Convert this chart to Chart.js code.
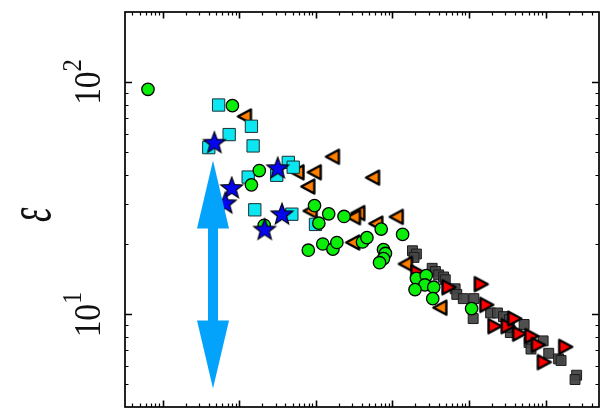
<!DOCTYPE html>
<html><head><meta charset="utf-8">
<script src="https://cdn.jsdelivr.net/npm/chart.js@4.4.1/dist/chart.umd.min.js"></script>
<style>
html,body{margin:0;padding:0;overflow:hidden;background:#fff;width:603px;height:412px}
#wrap{position:absolute;left:0;top:0;width:610px;height:418px}
</style>
</head><body>
<div id="wrap"><canvas id="c" width="610" height="418"></canvas></div>
<script>
// ---- data ----
const greenX = [6.39, 81.0, 182, 143.6, 211, 958, 1092, 1468, 2332, 7131, 13570, 795, 1229, 1668, 1878, 4059, 4639, 7636, 8099, 7636, 6780, 20560, 27650, 26530, 34640, 19720, 33630, 108100];
const greenY = [93.0, 79.1, 41.6, 36.1, 24.2, 29.4, 24.7, 27.1, 26.4, 23.3, 22.1, 18.9, 20.1, 19.1, 20.4, 20.5, 21.4, 19.0, 18.3, 17.4, 16.7, 14.3, 14.7, 13.4, 13.1, 12.8, 11.7, 10.6];

const cyanX = [53.5, 73.5, 39.8, 143.6, 151.1, 435.5, 505, 307.7, 130.3, 158.9, 484.5, 987];
const cyanY = [79.6, 59.4, 52.2, 64.5, 53.1, 45.1, 43.0, 39.7, 39.0, 28.2, 27.0, 24.4];

const starX = [47.1, 317, 79.4, 65.3, 360, 213.7];
const starY = [54.8, 42.6, 35.0, 30.1, 27.0, 23.2];

const orangeX = [118.1, 1668, 573.7, 963.6, 5577, 795, 851, 3574, 3137, 11360, 6150, 3064, 14970, 42250];
const orangeY = [71.1, 47.7, 40.9, 40.9, 38.8, 35.5, 27.9, 27.3, 26.2, 26.3, 24.6, 20.4, 16.5, 10.7];

const redX = [21180, 54040, 142500, 168700, 215800, 320100, 390500, 452800, 652000, 795600, 950400, 1809000];
const redY = [15.2, 13.1, 13.5, 11.0, 8.91, 8.91, 9.60, 8.27, 8.08, 7.40, 6.24, 7.26];

const darkX = [18250, 20560, 19140, 33030, 36420, 40170, 46600, 49000, 65900, 69300, 84300, 115800, 113400, 191700, 235900, 281800, 336700, 346800, 317300, 525300, 609100, 646200, 930900, 1102000, 1483000, 1597000, 2551000, 2432000];
const darkY = [18.8, 18.2, 17.6, 15.8, 15.3, 14.8, 14.5, 14.1, 12.9, 12.2, 11.7, 11.7, 9.60, 10.15, 10.15, 9.79, 9.51, 8.36, 8.80, 9.06, 7.58, 7.10, 7.70, 6.81, 6.44, 6.34, 5.48, 5.25];

// double-headed range arrow (x position, y range)
const arrowX = [45.2];
const arrowY = [45.9, 4.81];

// axes
const xRange = [3.2, 5e6];
const yRange = [4, 200];
const yMajorTicks = [10, 100];
const yTickBase = '10';
const yTickExp = ['1', '2'];
const yAxisTitle = 'ε';

// ---- marker images ----
function makeTri(dir, fill) {
  const c = document.createElement('canvas'); c.width = 21; c.height = 21;
  const g = c.getContext('2d');
  g.beginPath();
  if (dir < 0) { g.moveTo(3.5, 10.5); g.lineTo(16.5, 3.5); g.lineTo(16.5, 17.5); }
  else { g.moveTo(17.5, 10.5); g.lineTo(4.5, 3.5); g.lineTo(4.5, 17.5); }
  g.closePath();
  g.fillStyle = fill; g.fill();
  g.lineJoin = 'round'; g.lineWidth = 2.4; g.strokeStyle = '#000'; g.stroke();
  return c;
}
function makeStar(fill) {
  const c = document.createElement('canvas'); c.width = 26; c.height = 26;
  const g = c.getContext('2d');
  const cx = 13, cy = 13.5, R = 11.5, r = 4.8;
  g.beginPath();
  for (let i = 0; i < 10; i++) {
    const a = -Math.PI / 2 + i * Math.PI / 5;
    const rr = i % 2 ? r : R;
    const px = cx + rr * Math.cos(a), py = cy + rr * Math.sin(a);
    i ? g.lineTo(px, py) : g.moveTo(px, py);
  }
  g.closePath();
  g.fillStyle = fill; g.fill();
  g.lineJoin = 'miter'; g.lineWidth = 1.1; g.strokeStyle = '#000'; g.stroke();
  return c;
}
const pts = (xs, ys) => xs.map((v, i) => ({ x: v, y: ys[i] }));

const arrowPlugin = {
  id: 'rangeArrow',
  afterDatasetsDraw(chart) {
    const { ctx, scales: { x, y } } = chart;
    const px = x.getPixelForValue(arrowX[0]);
    const yt = y.getPixelForValue(arrowY[0]);
    const yb = y.getPixelForValue(arrowY[1]);
    const hl = 68, hw = 16, sw = 5;
    ctx.save();
    ctx.fillStyle = '#03a2fb';
    ctx.beginPath();
    ctx.moveTo(px, yt);
    ctx.lineTo(px + hw, yt + hl);
    ctx.lineTo(px + sw, yt + hl);
    ctx.lineTo(px + sw, yb - hl);
    ctx.lineTo(px + hw, yb - hl);
    ctx.lineTo(px, yb);
    ctx.lineTo(px - hw, yb - hl);
    ctx.lineTo(px - sw, yb - hl);
    ctx.lineTo(px - sw, yt + hl);
    ctx.lineTo(px - hw, yt + hl);
    ctx.closePath();
    ctx.fill();
    ctx.restore();
  }
};

function drawTitle(ctx, cx, cy) {
  ctx.save();
  ctx.font = 'italic 34px "Liberation Serif", serif';
  const m = ctx.measureText(yAxisTitle);
  const L = m.actualBoundingBoxLeft, R = m.actualBoundingBoxRight;
  const A = m.actualBoundingBoxAscent, D = m.actualBoundingBoxDescent;
  const gw = L + R, gh = A + D;
  ctx.translate(cx, cy);
  ctx.rotate(-Math.PI / 2);
  ctx.scale(15 / gw, 29 / gh);
  ctx.textAlign = 'left'; ctx.textBaseline = 'alphabetic';
  ctx.fillText(yAxisTitle, (L - R) / 2, (A - D) / 2);
  ctx.restore();
}

const framePlugin = {
  id: 'frame',
  afterDraw(chart) {
    const { ctx, chartArea: a, scales: { x, y } } = chart;
    ctx.save();
    ctx.strokeStyle = '#000';
    ctx.lineWidth = 1.7;
    ctx.strokeRect(a.left, a.top, a.right - a.left, a.bottom - a.top);
    for (let d = 0; d <= 7; d++) {
      for (let m = 1; m <= 9; m++) {
        const v = m * Math.pow(10, d);
        if (v <= xRange[0] || v >= xRange[1]) continue;
        const p = Math.round(x.getPixelForValue(v)) + 0.5;
        const len = m === 1 ? 6.5 : 3.5;
        ctx.lineWidth = m === 1 ? 1.6 : 1.2;
        ctx.beginPath();
        ctx.moveTo(p, a.top); ctx.lineTo(p, a.top + len);
        ctx.moveTo(p, a.bottom); ctx.lineTo(p, a.bottom - len);
        ctx.stroke();
      }
    }
    for (let d = 0; d <= 3; d++) {
      for (let m = 1; m <= 9; m++) {
        const v = m * Math.pow(10, d);
        if (v <= yRange[0] || v >= yRange[1]) continue;
        const p = Math.round(y.getPixelForValue(v)) + 0.5;
        const len = m === 1 ? 7 : 3.5;
        ctx.lineWidth = m === 1 ? 1.6 : 1.2;
        ctx.beginPath();
        ctx.moveTo(a.left, p); ctx.lineTo(a.left + len, p);
        ctx.moveTo(a.right, p); ctx.lineTo(a.right - len, p);
        ctx.stroke();
      }
    }
    ctx.fillStyle = '#111';
    yMajorTicks.forEach((v, i) => {
      const py = y.getPixelForValue(v);
      ctx.save();
      ctx.translate(100, py);
      ctx.rotate(-Math.PI / 2);
      ctx.scale(0.88, 1);
      ctx.font = '38px "Liberation Serif", serif';
      const w1 = ctx.measureText(yTickBase).width;
      ctx.font = '28px "Liberation Serif", serif';
      const w2 = ctx.measureText(yTickExp[i]).width;
      const start = -(w1 + w2) / 2;
      ctx.textBaseline = 'alphabetic';
      ctx.textAlign = 'left';
      ctx.font = '38px "Liberation Serif", serif';
      ctx.fillText(yTickBase, start, 0);
      ctx.font = '28px "Liberation Serif", serif';
      ctx.fillText(yTickExp[i], start + w1, -19);
      ctx.restore();
    });
    drawTitle(ctx, 35.5, 214.5);
    ctx.restore();
  }
};

new Chart(document.getElementById('c'), {
  type: 'scatter',
  data: {
    datasets: [
      { label: 'stars', data: pts(starX, starY), pointStyle: makeStar('#0505ee'), pointRadius: 10, order: 1 },
      { label: 'green', data: pts(greenX, greenY), pointStyle: 'circle', pointRadius: 6.2, borderWidth: 1.3,
        backgroundColor: '#0aee0a', borderColor: '#000', order: 2 },
      { label: 'cyan', data: pts(cyanX, cyanY), pointStyle: 'rect', pointRadius: 8.7, borderWidth: 1,
        backgroundColor: '#0ce6f0', borderColor: '#1b2f33', order: 3 },
      { label: 'red', data: pts(redX, redY), pointStyle: makeTri(1, '#ff0000'), pointRadius: 8, order: 4 },
      { label: 'orange', data: pts(orangeX, orangeY), pointStyle: makeTri(-1, '#ff7f00'), pointRadius: 8, order: 5 },
      { label: 'dark', data: pts(darkX, darkY), pointStyle: 'rect', pointRadius: 7, borderWidth: 1,
        backgroundColor: 'rgba(70,70,70,0.95)', borderColor: '#1c1c1c', order: 6 }
    ]
  },
  options: {
    responsive: false,
    devicePixelRatio: 1,
    animation: false,
    layout: { padding: { left: 125, top: 12, right: 4, bottom: 4 } },
    scales: {
      x: { type: 'logarithmic', min: xRange[0], max: xRange[1], display: false },
      y: { type: 'logarithmic', min: yRange[0], max: yRange[1], display: false }
    },
    plugins: { legend: { display: false }, tooltip: { enabled: false } },
    events: []
  },
  plugins: [arrowPlugin, framePlugin]
});
</script>
</body></html>
